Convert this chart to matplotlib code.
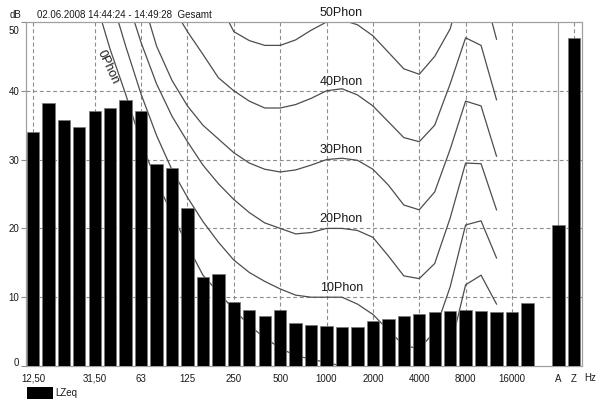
import matplotlib
matplotlib.use("Agg")
import matplotlib.pyplot as plt
import matplotlib.transforms as mtransforms
from matplotlib.patches import Rectangle

plt.rcParams['font.family'] = ['Liberation Sans', 'DejaVu Sans']

# ---------------- data ----------------
bands = [12.5, 16, 20, 25, 31.5, 40, 50, 63, 80, 100, 125, 160, 200, 250, 315,
         400, 500, 630, 800, 1000, 1250, 1600, 2000, 2500, 3150, 4000, 5000,
         6300, 8000, 10000, 12500, 16000, 20000]
lzeq = [34.0, 38.2, 35.8, 34.7, 37.1, 37.5, 38.7, 37.1, 29.4, 28.8, 23.0, 12.9,
        13.3, 9.3, 8.2, 7.2, 8.2, 6.3, 5.9, 5.8, 5.7, 5.7, 6.5, 6.9, 7.2, 7.6,
        7.8, 8.0, 8.2, 8.0, 7.8, 7.8, 9.2]
sum_labels = ['A', 'Z']
sum_values = [20.5, 47.7]

tick_freqs = [12.5, 31.5, 63, 125, 250, 500, 1000, 2000, 4000, 8000, 16000]
tick_labels = ['12,50', '31,50', '63', '125', '250', '500', '1000', '2000',
               '4000', '8000', '16000']

contour_freqs = [20, 25, 31.5, 40, 50, 63, 80, 100, 125, 160, 200, 250, 315,
                 400, 500, 630, 800, 1000, 1250, 1600, 2000, 2500, 3150, 4000,
                 5000, 6300, 8000, 10000, 12500]
phon0 = [75, 64, 53.5, 46, 39.5, 32.5, 26.8, 22.1, 17.5, 13.2, 10.7, 8.2, 5.9,
         4.1, 2.6, 1.5, 1.0, 0.5, 0.0, -1.0, -3.0, -6.0, -8.0, -8.5, -5.0, 2.5,
         11.8, 13.2, 9.0]
phon10 = [85, 75, 64, 54, 46.5, 39.5, 33.5, 28.5, 24.5, 21.0, 18.0, 15.4, 13.6,
          12.3, 11.2, 10.3, 10.0, 10.0, 10.0, 9.0, 7.5, 5.2, 3.0, 2.5, 5.0,
          11.5, 20.5, 21.1, 15.7]
phon20 = [92, 82, 72, 62, 54, 47, 41, 36.3, 32.6, 29.2, 26.5, 24.2, 22.3, 20.8,
          20.0, 19.2, 19.4, 20.0, 20.0, 19.7, 18.7, 16.0, 13.1, 12.7, 14.9,
          21.5, 29.5, 29.4, 22.7]
phon30 = [100, 90, 80, 70, 62, 54, 46.5, 41.5, 37.8, 35.0, 33.0, 31.0, 29.5,
          28.6, 28.2, 28.5, 29.2, 30.0, 30.2, 29.9, 28.6, 26.3, 23.4, 22.7,
          25.3, 31.5, 38.5, 37.8, 30.5]
phon40 = [105, 97, 89, 81, 74, 67, 57, 52.3, 48.6, 45.3, 41.9, 40.0, 38.5,
          37.5, 37.5, 38.0, 38.9, 40.0, 40.3, 39.4, 37.8, 35.5, 33.2, 32.6,
          35.0, 41.0, 47.7, 46.6, 38.7]
phon50 = [112, 105, 98, 91, 85, 79, 73, 68, 63, 58, 53, 48.6, 47.3, 46.6, 46.6,
          47.4, 48.8, 50.0, 50.3, 49.6, 48.0, 45.6, 43.2, 42.4, 45.0, 49.0,
          57.0, 56.0, 47.5]
phon_levels = [0, 10, 20, 30, 40, 50]
phon_curves = [phon0, phon10, phon20, phon30, phon40, phon50]

# ---------------- figure ----------------
fig = plt.figure(figsize=(6.0, 3.99), dpi=100)
ax = fig.add_axes([26 / 600, 1 - 366 / 399, 555.5 / 600, 344 / 399])

band_x = list(range(len(bands)))
sum_x = [len(bands) + 1 + i for i in range(len(sum_values))]
contour_x = [bands.index(f) for f in contour_freqs]
tick_x = [bands.index(f) for f in tick_freqs]

grid_col = '#8c8c8c'
dash = (0, (3.5, 2.5))

# grid
for y in [10, 20, 30, 40]:
    ax.axhline(y, color=grid_col, lw=0.8, ls=dash, zorder=1)
for x in tick_x:
    ax.axvline(x, color=grid_col, lw=0.8, ls=dash, zorder=1)
ax.axvline(sum_x[0], color='#a0a0a0', lw=0.8, zorder=1)
ax.axvline(sum_x[1], color=grid_col, lw=0.8, ls=dash, zorder=1)

# equal loudness contours
for lvl, vals in zip(phon_levels, phon_curves):
    ax.plot(contour_x, vals, color='#4d4d4d', lw=0.9, zorder=2)

# bars
ax.bar(band_x, lzeq, width=0.8, color='black', edgecolor='#777777',
       linewidth=0.5, zorder=3)
ax.bar(sum_x, sum_values, width=0.8, color='black', edgecolor='#777777',
       linewidth=0.5, zorder=3)

# phon labels
lab_x = bands.index(1250) - 0.05
for lvl in phon_levels[1:]:
    ax.text(lab_x, lvl + 1.35, f'{lvl}Phon', ha='center', va='center',
            fontsize=9, color='#1a1a1a', zorder=4, clip_on=False)
ax.text(4.85, 43.5, '0Phon', ha='center', va='center', rotation=-65,
        fontsize=9, color='#1a1a1a', zorder=4)

# axes styling
ax.set_xlim(-0.45, 35.5)
ax.set_ylim(0, 50)
ax.set_yticks([0, 10, 20, 30, 40, 50])
ax.set_yticklabels(['0', '10', '20', '30', '40', '50'])
ax.set_xticks(tick_x + sum_x)
ax.set_xticklabels(tick_labels + sum_labels)
ax.tick_params(axis='x', length=0, pad=5.5, labelsize=7, labelcolor='#1a1a1a')
ax.tick_params(axis='y', length=3.3, width=0.8, color='#8c8c8c', pad=1.5,
               labelsize=7, labelcolor='#1a1a1a')
for s in ax.spines.values():
    s.set_color('#a0a0a0')
    s.set_linewidth(0.9)

# shift end labels like the reference
labels = ax.get_yticklabels()
labels[-1].set_transform(labels[-1].get_transform() +
                         mtransforms.ScaledTranslation(0, -0.08, fig.dpi_scale_trans))
labels[0].set_transform(labels[0].get_transform() +
                        mtransforms.ScaledTranslation(0, 0.04, fig.dpi_scale_trans))

# header texts
fig.text(10 / 600, 1 - 15 / 399, 'dB', fontsize=7, va='center', color='#1a1a1a')
fig.text(37 / 600, 1 - 15 / 399, '02.06.2008 14:44:24 - 14:49:28  Gesamt',
         fontsize=7, va='center', color='#1a1a1a')
fig.text(590 / 600, 1 - 378 / 399, 'Hz', fontsize=7, ha='center', va='center',
         color='#1a1a1a')

# legend
fig.patches.append(Rectangle((27 / 600, -0.01), 26 / 600, (399 - 386.5) / 399 + 0.01,
                             transform=fig.transFigure, facecolor='black',
                             edgecolor='none'))
fig.text(55 / 600, 1 - 393 / 399, 'LZeq', fontsize=7, va='center',
         color='#1a1a1a')

fig.savefig('out.png', dpi=100)
